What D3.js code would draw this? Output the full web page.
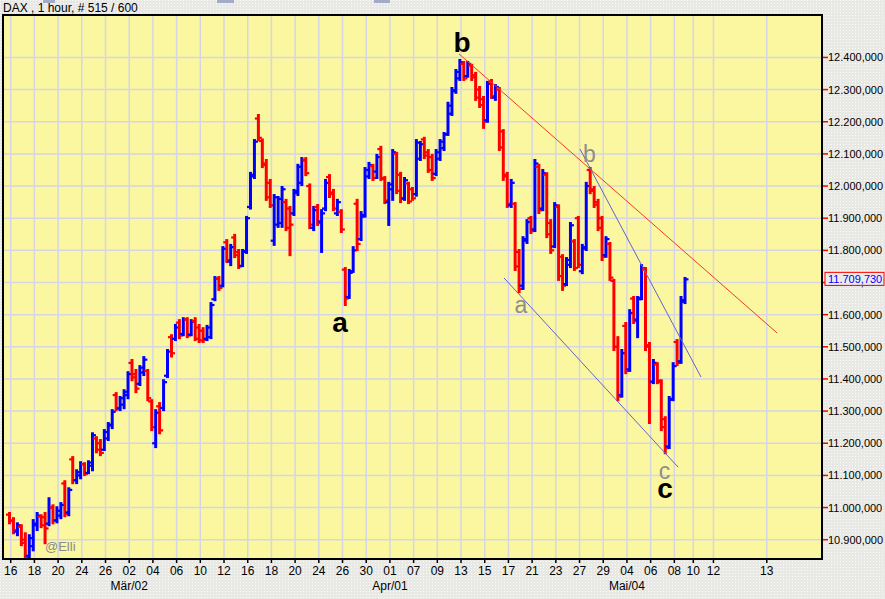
<!DOCTYPE html>
<html><head><meta charset="utf-8">
<script src="https://cdn.jsdelivr.net/npm/d3@7"></script>
<style>body{margin:0;background:#e9e9e6;} svg{display:block;font-family:"Liberation Sans",Arial,sans-serif;}</style>
</head><body><svg id="c" width="885" height="599"></svg>
<script>
// ---------- DATA ----------
const title = "DAX , 1 hour, # 515 / 600";
// OHLC bars (each bar ~3 hourly candles), [open, high, low, close]
const bars = [
[10978,10983,10951,10958],[10960,10967,10920,10930],[10925,10951,10914,10945],[10940,10945,10883,10890],
[10900,10920,10830,10845],[10850,10914,10842,10905],[10880,10961,10867,10950],[10945,10983,10930,10975],
[10972,10976,10939,10945],[10970,10983,10889,10935],[10950,11029,10945,11000],[11000,11007,10951,10960],
[10960,11001,10954,10990],[10975,11014,10967,11008],[11075,11082,10973,10980],[10985,11060,10976,11055],
[11150,11157,11076,11085],[11085,11116,11076,11110],[11100,11141,11091,11135],[11135,11138,11101,11105],
[11108,11144,11107,11140],[11130,11231,11116,11225],[11215,11219,11172,11180],[11200,11210,11163,11170],
[11180,11241,11179,11235],[11215,11263,11210,11258],[11255,11303,11247,11298],[11350,11356,11303,11310],
[11308,11344,11303,11340],[11320,11365,11309,11360],[11350,11421,11340,11415],[11450,11459,11396,11405],
[11415,11428,11359,11370],[11385,11440,11381,11435],[11420,11468,11412,11460],[11425,11428,11334,11340],
[11330,11334,11241,11250],[11200,11303,11188,11295],[11315,11325,11231,11240],[11310,11396,11303,11390],
[11410,11490,11406,11485],[11530,11536,11470,11480],[11525,11568,11521,11560],[11575,11583,11527,11535],
[11540,11589,11536,11585],[11585,11589,11530,11535],[11538,11583,11536,11578],[11580,11589,11521,11525],
[11560,11568,11515,11520],[11550,11558,11515,11522],[11525,11565,11521,11560],[11530,11636,11527,11630],
[11648,11717,11645,11712],[11712,11717,11677,11683],[11690,11810,11688,11805],[11825,11832,11764,11770],
[11765,11817,11754,11810],[11840,11848,11779,11785],[11795,11801,11745,11750],[11752,11801,11751,11795],
[11798,11904,11792,11900],[11935,12041,11930,12035],[12030,12143,12025,12138],[12210,12221,12143,12150],
[12140,12145,12059,12065],[12070,12081,11957,11965],[12010,12019,11935,11940],[11830,11972,11817,11965],
[11880,11966,11873,11960],[11885,11997,11873,11990],[11950,11957,11863,11870],[11930,11935,11785,11880],
[11915,11988,11910,11985],[11978,12066,11972,12060],[12010,12087,12003,12080],[12082,12087,12034,12040],
[12000,12005,11869,11880],[11870,11935,11863,11925],[11935,11941,11879,11885],[11890,11925,11795,11915],
[11930,12019,11925,12010],[12028,12034,11966,11975],[11980,11988,11925,11930],[11915,11957,11910,11950],
[11920,11925,11857,11865],[11740,11745,11630,11650],[11655,11739,11652,11730],[11735,11810,11733,11800],
[11945,11957,11801,11820],[11835,11919,11832,11905],[11910,12056,11905,12050],[12030,12072,12025,12065],
[12062,12066,12019,12025],[12045,12097,12025,12090],[12115,12122,12019,12025],[12022,12028,11947,11955],
[11950,12010,11879,12005],[11990,12112,11957,12105],[12100,12103,11978,11985],[12035,12041,11950,11960],
[11962,12025,11957,12018],[12008,12010,11947,11952],[11990,11994,11957,11962],[11975,12143,11970,12135],
[12085,12137,12081,12130],[12145,12150,12087,12095],[12105,12112,12044,12050],[12090,12097,12019,12025],
[12038,12112,12034,12105],[12085,12143,12081,12138],[12118,12165,12112,12160],[12162,12259,12159,12250],
[12225,12305,12221,12298],[12295,12361,12290,12355],[12335,12392,12330,12385],[12380,12386,12330,12335],
[12342,12386,12340,12380],[12375,12377,12330,12338],[12345,12352,12268,12275],[12300,12308,12246,12252],
[12270,12277,12181,12200],[12205,12324,12200,12318],[12325,12330,12274,12280],[12275,12314,12268,12308],
[12300,12305,12112,12120],[12170,12174,12019,12030],[12035,12041,11935,11945],[11940,12019,11935,12010],
[11945,11947,11739,11750],[11795,11801,11670,11680],[11690,11841,11680,11835],[11830,11894,11823,11888],
[11900,11904,11854,11860],[11865,12081,11860,12070],[12060,12066,11916,11925],[11930,12050,11925,12040],
[12035,12040,11841,11850],[11885,11894,11792,11800],[11812,11947,11810,11940],[11935,11940,11708,11720],
[11780,11785,11677,11690],[11695,11776,11692,11770],[11755,11885,11748,11878],[11828,11832,11739,11745],
[11900,11904,11748,11755],[11735,11817,11729,11810],[11805,12010,11801,12000],[12050,12056,11978,11985],
[11990,11997,11935,11942],[11950,11957,11863,11870],[11900,11904,11770,11780],[11785,11841,11780,11835],
[11820,11823,11708,11715],[11705,11708,11490,11500],[11500,11530,11334,11345],[11350,11490,11345,11480],
[11565,11574,11418,11425],[11430,11614,11425,11605],[11650,11655,11574,11580],[11585,11655,11530,11648],
[11652,11754,11648,11745],[11740,11745,11490,11500],[11505,11512,11263,11390],[11392,11459,11387,11450],
[11445,11449,11387,11395],[11390,11396,11241,11250],[11275,11281,11169,11185],[11190,11344,11185,11335],
[11338,11449,11334,11440],[11515,11521,11443,11450],[11455,11655,11450,11645],[11640,11714,11636,11709.73]
];
const barsPerDay = 3;
const priceTicks = [10900,11000,11100,11200,11300,11400,11500,11600,11700,11800,11900,12000,12100,12200,12300,12400];
const tickDays   = [0,2,4,6,8,10,12,14,16,18,20,22,24,26,28,30,32,34,36,38,40,42,44,46,48,50,52,54,56,57.6,59.3,63.8];
const tickLabels = ["16","18","20","24","26","02","04","06","10","12","16","18","20","24","26","30","01","07","09","13","15","17","21","23","27","29","04","06","08","10","12","13"];
const monthDays   = [10,32,52];
const monthLabels = ["Mär/02","Apr/01","Mai/04"];
const lastValue = 11709.73;
const waveLabels = [
  {t:"b", day:38.08, price:12417, kind:"major"},
  {t:"a", day:27.79, price:11546, kind:"major"},
  {t:"c", day:55.22, price:11030, kind:"major"},
  {t:"a", day:43.06, price:11605, kind:"minor"},
  {t:"b", day:48.84, price:12075, kind:"minor"},
  {t:"c", day:55.17, price:11088, kind:"minor"}
];
const trendLines = [
  {d1:37.83, p1:12411, d2:64.67, p2:11543, color:"#f03c1e"},
  {d1:48.04, p1:12115, d2:58.25, p2:11406, color:"#6262c8"},
  {d1:41.63, p1:11714, d2:56.31, p2:11126, color:"#6262c8"}
];

// ---------- LAYOUT ----------
const W=885,H=599;
const plot={l:3,t:15,r:822,b:559};
const x=d3.scaleLinear().domain([-0.65,68.46]).range([plot.l,plot.r]);
const y=d3.scaleLinear().domain([10840,12532]).range([plot.b,plot.t]);
const de=d3.formatLocale({decimal:",",thousands:".",grouping:[3],currency:["","€"]});
const fmt=de.format(",.3f");

const svg=d3.select("#c");
const defs=svg.append("defs");
const pat=defs.append("pattern").attr("id","dots").attr("width",3).attr("height",3).attr("patternUnits","userSpaceOnUse");
pat.append("rect").attr("width",3).attr("height",3).attr("fill","#e8e8e5");
pat.append("rect").attr("width",1).attr("height",1).attr("fill","#fbfbfb");
defs.append("clipPath").attr("id","pc").append("rect")
  .attr("x",plot.l).attr("y",plot.t).attr("width",plot.r-plot.l).attr("height",plot.b-plot.t);

svg.append("rect").attr("width",W).attr("height",H).attr("fill","url(#dots)");
// toolbar remnants at top
[[43,12],[217,17],[374,16]].forEach(([a,w])=>svg.append("rect").attr("x",a).attr("y",0).attr("width",w).attr("height",3).attr("fill","#a3abcb"));

svg.append("text").attr("x",3).attr("y",12).attr("font-size",12).attr("fill","#000").text(title);

svg.append("rect").attr("x",plot.l).attr("y",plot.t).attr("width",plot.r-plot.l).attr("height",plot.b-plot.t).attr("fill","#fbf7a1");

// grid
const g=svg.append("g");
g.selectAll("line.h").data(priceTicks).join("line")
  .attr("x1",plot.l).attr("x2",plot.r).attr("y1",d=>y(d)).attr("y2",d=>y(d))
  .attr("stroke","#d5d5e6").attr("stroke-width",1.5);
g.selectAll("line.v").data(tickDays).join("line")
  .attr("y1",plot.t).attr("y2",plot.b).attr("x1",d=>x(d)).attr("x2",d=>x(d))
  .attr("stroke","#d5d5e6").attr("stroke-width",1.5);

// bars
const bg=svg.append("g").attr("clip-path","url(#pc)");
const bx=i=>x((i-0.3)/barsPerDay);
const col=d=>d[3]>=d[0]?"#0000ff":"#ff0000";
const bs=bg.selectAll("g.bar").data(bars).join("g").attr("stroke",d=>col(d));
bs.append("line").attr("x1",(d,i)=>bx(i)).attr("x2",(d,i)=>bx(i))
  .attr("y1",d=>y(d[1])-1).attr("y2",d=>y(d[2])+1).attr("stroke-width",3);
bs.append("line").attr("x1",(d,i)=>bx(i)-3.5).attr("x2",(d,i)=>bx(i))
  .attr("y1",d=>y(d[0])).attr("y2",d=>y(d[0])).attr("stroke-width",2.2);
bs.append("line").attr("x1",(d,i)=>bx(i)).attr("x2",(d,i)=>bx(i)+3.5)
  .attr("y1",d=>y(d[3])).attr("y2",d=>y(d[3])).attr("stroke-width",2.2);

// trend lines
bg.selectAll("line.tr").data(trendLines).join("line")
  .attr("x1",d=>x(d.d1)).attr("y1",d=>y(d.p1)).attr("x2",d=>x(d.d2)).attr("y2",d=>y(d.p2))
  .attr("stroke",d=>d.color).attr("stroke-width",1);

// wave labels
svg.selectAll("text.w").data(waveLabels).join("text")
  .attr("x",d=>x(d.day)).attr("y",d=>y(d.price)).attr("text-anchor","middle")
  .attr("font-size",d=>d.kind==="major"?28:23)
  .attr("font-weight",d=>d.kind==="major"?"bold":"normal")
  .attr("fill",d=>d.kind==="major"?"#000":"#8e8e8e").text(d=>d.t);

svg.append("text").attr("x",plot.l+42).attr("y",plot.b-8).attr("font-size",13).attr("fill","#8a8a8a").text("@Elli");

// frame
svg.append("rect").attr("x",plot.l).attr("y",plot.t).attr("width",plot.r-plot.l).attr("height",plot.b-plot.t)
  .attr("fill","none").attr("stroke","#000").attr("stroke-width",2);

// right axis
const ra=svg.append("g");
ra.selectAll("line").data(priceTicks).join("line")
  .attr("x1",plot.r+1).attr("x2",plot.r+6).attr("y1",d=>y(d)).attr("y2",d=>y(d)).attr("stroke","#ff0000").attr("stroke-width",1.5);
ra.selectAll("text").data(priceTicks).join("text")
  .attr("x",plot.r+6).attr("y",d=>y(d)+4).attr("font-size",11).attr("fill","#000").text(d=>fmt(d));

// bottom axis
const ba=svg.append("g");
ba.selectAll("line").data(tickDays).join("line")
  .attr("x1",d=>x(d)).attr("x2",d=>x(d)).attr("y1",plot.b).attr("y2",plot.b+4).attr("stroke","#000").attr("stroke-width",1.5);
ba.selectAll("text").data(tickDays).join("text")
  .attr("x",d=>x(d)).attr("y",plot.b+16).attr("text-anchor","middle").attr("font-size",12).attr("fill","#000")
  .text((d,i)=>tickLabels[i]);
svg.selectAll("text.m").data(monthDays).join("text")
  .attr("x",d=>x(d)).attr("y",plot.b+31).attr("text-anchor","middle").attr("font-size",12).attr("fill","#000")
  .text((d,i)=>monthLabels[i]);

// last value box
const ly=y(lastValue);
svg.append("rect").attr("x",plot.r+3).attr("y",ly-7).attr("width",59).attr("height",13)
  .attr("fill","#ecece9").attr("stroke","#ff0000").attr("stroke-width",1);
svg.append("text").attr("x",plot.r+6).attr("y",ly+4).attr("font-size",11).attr("fill","#0000ff").text(fmt(lastValue));
</script></body></html>
